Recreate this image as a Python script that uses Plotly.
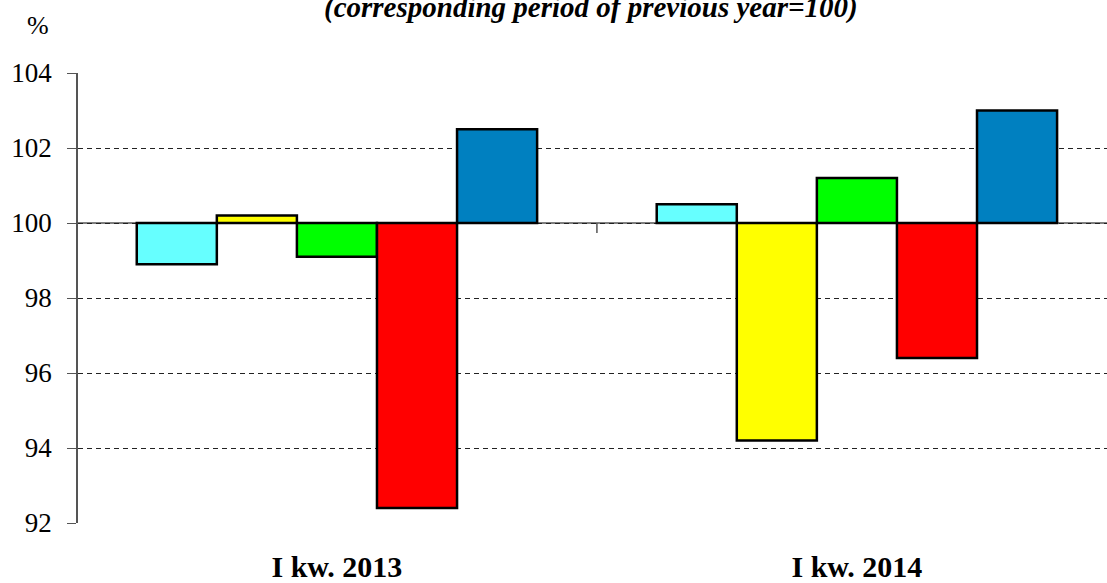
import plotly.graph_objects as go

categories = ["I kw. 2013", "I kw. 2014"]
series_names = ["Series 1", "Series 2", "Series 3", "Series 4", "Series 5"]
series_colors = ["#66FFFF", "#FFFF00", "#00FF00", "#FF0000", "#0080C0"]
series_values = [
    [98.9, 100.5],
    [100.2, 94.2],
    [99.1, 101.2],
    [92.4, 96.4],
    [102.5, 103.0],
]
base_value = 100
y_ticks = [92, 94, 96, 98, 100, 102, 104]

FONT = "Times New Roman"

fig = go.Figure()
x_idx = list(range(len(categories)))
for name, color, vals in zip(series_names, series_colors, series_values):
    fig.add_trace(go.Bar(
        x=x_idx,
        y=[v - base_value for v in vals],
        base=base_value,
        name=name,
        marker=dict(color=color, line=dict(color="black", width=2.5)),
        showlegend=False,
    ))

fig.update_layout(
    width=1107, height=583,
    margin=dict(l=78, r=0, t=73, b=56),
    paper_bgcolor="white", plot_bgcolor="white",
    barmode="group", bargap=0.23, bargroupgap=0,
    font=dict(family=FONT, color="black"),
    xaxis=dict(
        tickmode="array", tickvals=x_idx,
        ticktext=["<b>%s</b>" % c for c in categories],
        range=[-0.498, 1.481],
        showgrid=False, showline=False, zeroline=False, ticks="",
        tickfont=dict(family=FONT, size=30, color="black"),
        ticklabelstandoff=23,
    ),
    yaxis=dict(
        range=[92, 104], tickmode="array", tickvals=y_ticks,
        showgrid=True, gridcolor="#222222", griddash="5px,4px", gridwidth=1,
        showline=True, linecolor="#555555", linewidth=1.5,
        ticks="outside", ticklen=9, tickcolor="#555555",
        tickfont=dict(family=FONT, size=27, color="black"),
        ticklabelstandoff=10,
        zeroline=False,
    ),
    annotations=[
        dict(text="<b><i>(corresponding period of previous year=100)</i></b>",
             xref="paper", yref="paper", x=0.4985, y=1, yshift=66,
             xanchor="center", yanchor="middle", showarrow=False,
             font=dict(family=FONT, size=29, color="black")),
        dict(text="%", xref="paper", yref="paper", x=-0.0389, y=1, yshift=48,
             xanchor="center", yanchor="middle", showarrow=False,
             font=dict(family=FONT, size=26, color="black")),
    ],
    shapes=[
        dict(type="line", xref="paper", yref="y", x0=0, x1=1,
             y0=base_value, y1=base_value, line=dict(color="#555555", width=1.5), layer="below"),
        dict(type="line", xref="x", yref="y", x0=0.5, x1=0.5,
             ysizemode="pixel", yanchor=base_value, y0=0, y1=-10,
             line=dict(color="#555555", width=1.5)),
    ],
)

fig.write_html("out.html", config={"displayModeBar": False},
               post_script="document.body.style.margin='0';")
